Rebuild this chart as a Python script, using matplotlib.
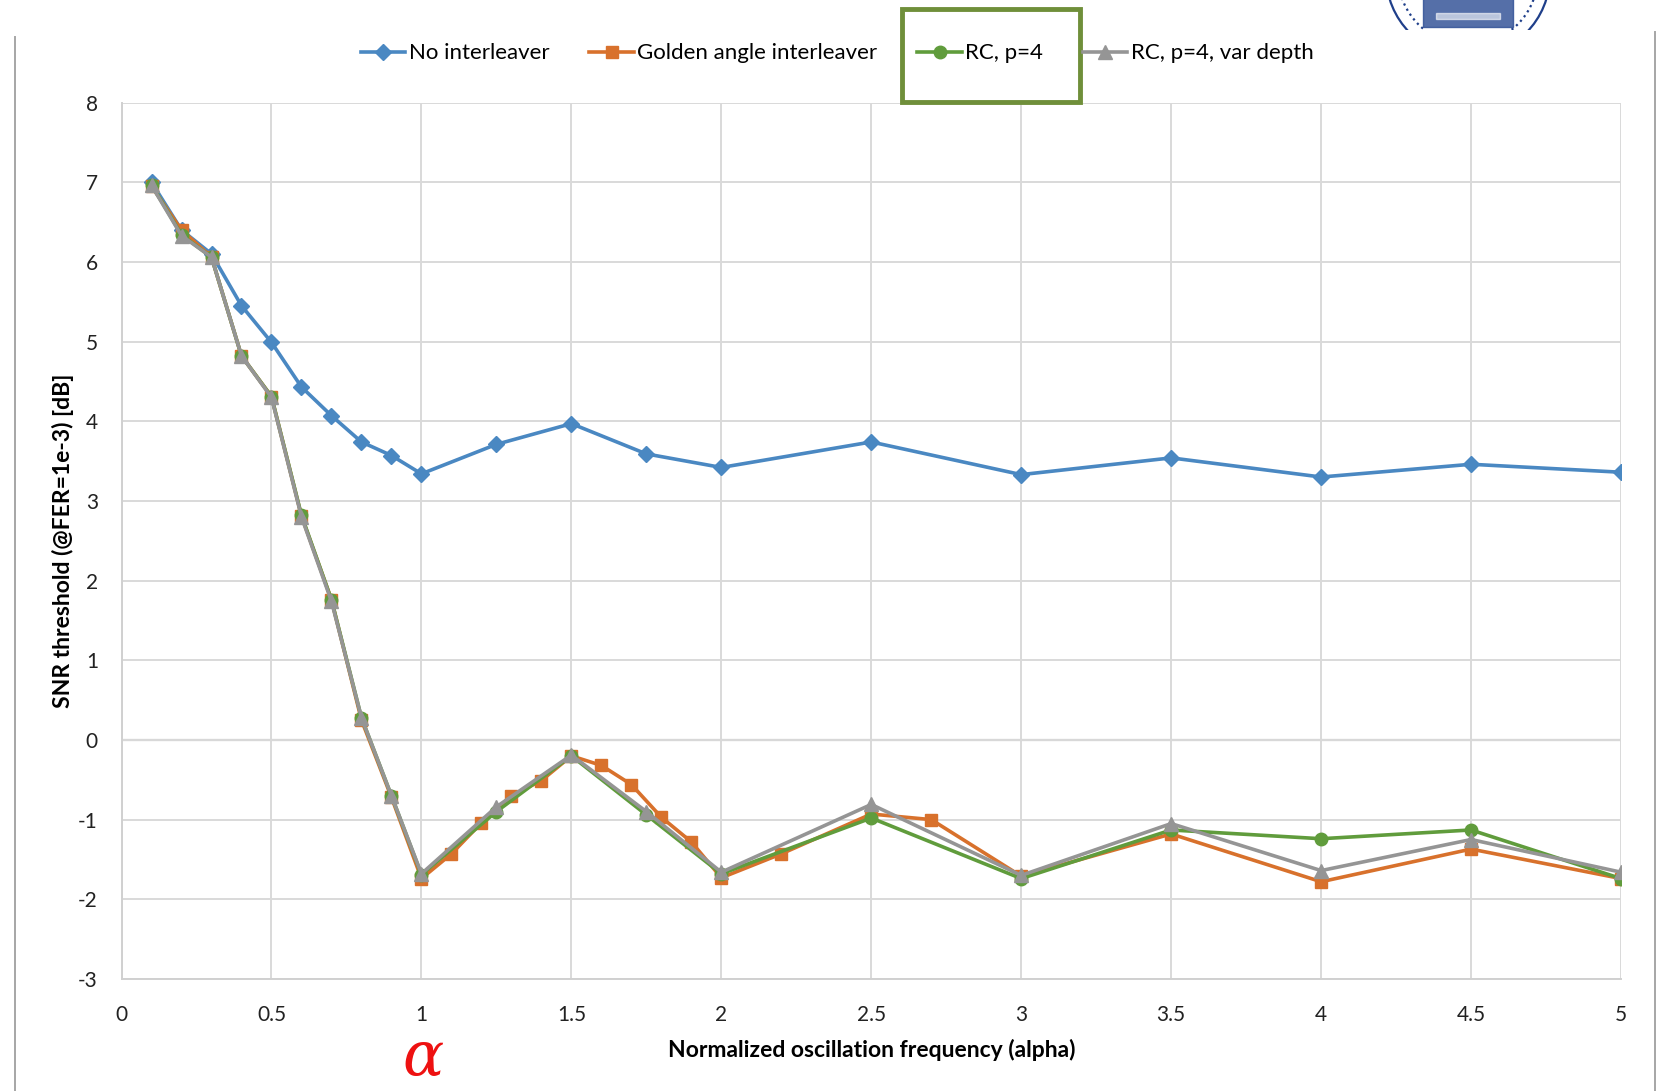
import matplotlib.pyplot as plt
from matplotlib.patches import Rectangle, Circle
from matplotlib.lines import Line2D

# Data
x_no = [0.1, 0.2, 0.3, 0.4, 0.5, 0.6, 0.7, 0.8, 0.9, 1.0,
        1.25, 1.5, 1.75, 2.0, 2.5, 3.0, 3.5, 4.0, 4.5, 5.0]
y_no = [7.0, 6.4, 6.1, 5.45, 4.99, 4.43, 4.07, 3.74, 3.57, 3.34,
        3.71, 3.97, 3.59, 3.42, 3.74, 3.33, 3.54, 3.30, 3.46, 3.36]

x_golden = [0.1, 0.2, 0.3, 0.4, 0.5, 0.6, 0.7, 0.8, 0.9, 1.0,
            1.1, 1.2, 1.3, 1.4, 1.5, 1.6, 1.7, 1.8, 1.9, 2.0,
            2.2, 2.5, 2.7, 3.0, 3.5, 4.0, 4.5, 5.0]
y_golden = [6.95, 6.4, 6.06, 4.82, 4.31, 2.81, 1.76, 0.25, -0.72, -1.74,
            -1.43, -1.04, -0.70, -0.51, -0.20, -0.32, -0.56, -0.97, -1.28, -1.73,
            -1.43, -0.93, -1.0, -1.71, -1.18, -1.78, -1.37, -1.74]

x_rc = [0.1, 0.2, 0.3, 0.4, 0.5, 0.6, 0.7, 0.8, 0.9, 1.0,
        1.25, 1.5, 1.75, 2.0, 2.5, 3.0, 3.5, 4.0, 4.5, 5.0]
y_rc = [6.97, 6.34, 6.06, 4.82, 4.31, 2.82, 1.76, 0.28, -0.70, -1.69,
        -0.90, -0.20, -0.94, -1.68, -0.98, -1.74, -1.13, -1.24, -1.13, -1.74]
y_rc_var = [6.96, 6.33, 6.06, 4.82, 4.30, 2.80, 1.74, 0.28, -0.70, -1.68,
            -0.84, -0.19, -0.90, -1.66, -0.81, -1.70, -1.05, -1.64, -1.25, -1.66]

x_ticks = [0, 0.5, 1, 1.5, 2, 2.5, 3, 3.5, 4, 4.5, 5]
x_tick_labels = ['0', '0.5', '1', '1.5', '2', '2.5', '3', '3.5', '4', '4.5', '5']
y_ticks = [-3, -2, -1, 0, 1, 2, 3, 4, 5, 6, 7, 8]

plt.rcParams['font.family'] = ['Lato', 'DejaVu Sans']
plt.rcParams['axes.unicode_minus'] = False

fig = plt.figure(figsize=(16.58, 10.91), dpi=100)
ax = fig.add_axes([0.0733, 0.1027, 0.9044, 0.8033])

c_blue = '#4a88c2'
c_orange = '#d8712c'
c_green = '#609c3c'
c_gray = '#959595'

lw = 2.6
ax.plot(x_no, y_no, color=c_blue, lw=lw, marker='D', ms=8, label='No interleaver', zorder=3)
ax.plot(x_golden, y_golden, color=c_orange, lw=lw, marker='s', ms=9, label='Golden angle interleaver', zorder=4)
ax.plot(x_rc, y_rc, color=c_green, lw=lw, marker='o', ms=9, label='RC, p=4', zorder=5)
ax.plot(x_rc, y_rc_var, color=c_gray, lw=lw, marker='^', ms=10, label='RC, p=4, var depth', zorder=6)

ax.set_xlim(0, 5)
ax.set_ylim(-3, 8)
ax.set_xticks(x_ticks)
ax.set_xticklabels(x_tick_labels)
ax.set_yticks(y_ticks)
ax.tick_params(length=0, labelsize=15, colors='#222222')
ax.tick_params(axis='x', pad=19)
ax.tick_params(axis='y', pad=17)
ax.grid(True, color='#d9d9d9', lw=1.4, zorder=0)
ax.axhline(0, color='#c4c4c4', lw=1.6, zorder=1)
for s in ['top', 'right']:
    ax.spines[s].set_visible(False)
ax.spines['left'].set_color('#d0d0d0')
ax.spines['bottom'].set_color('#d0d0d0')
ax.spines['left'].set_linewidth(1.4)
ax.spines['bottom'].set_linewidth(1.4)

ax.set_xlabel('Normalized oscillation frequency (alpha)', fontsize=16.5, fontweight='bold', labelpad=10)
ax.set_ylabel('SNR threshold (@FER=1e-3) [dB]', fontsize=16.5, fontweight='bold', labelpad=3)

fig.legend(loc='center', bbox_to_anchor=(0.505, 0.951), ncol=4, frameon=False,
           fontsize=16, handlelength=2.0, handletextpad=0.15, columnspacing=1.8)

# Slide decorations
fig.patches.append(Rectangle((902 / 1658, 1 - 102 / 1091), 178 / 1658, 93 / 1091,
                             transform=fig.transFigure, fill=False,
                             edgecolor='#6f8f3a', lw=3.5))
fig.lines.append(Line2D([15 / 1658, 15 / 1658], [0, 1 - 37 / 1091],
                        transform=fig.transFigure, color='#a6a6a6', lw=1.4))
fig.lines.append(Line2D([1655 / 1658, 1655 / 1658], [0, 1 - 32 / 1091],
                        transform=fig.transFigure, color='#a6a6a6', lw=1.4))

# cropped university seal at top right
logo = fig.add_axes([1383 / 1658, 1 - 30 / 1091, 170 / 1658, 30 / 1091])
logo.set_xlim(-85, 85)
logo.set_ylim(-15, 15)
logo.axis('off')
logo.add_patch(Circle((0, 40), 82, fill=False, edgecolor='#1f3f8a', lw=1.6))
logo.add_patch(Circle((0, 40), 70, fill=False, edgecolor='#1f3f8a', lw=1.6, ls=':'))
logo.add_patch(Rectangle((-45, -12), 90, 30, color='#2a4b93', alpha=0.8))
logo.add_patch(Rectangle((-32, -4), 64, 6, color='white', alpha=0.6))

fig.text(423 / 1658, 1 - 1058 / 1091, 'α', color='#ee1111', fontsize=44,
         ha='center', va='center', family='DejaVu Serif', style='italic')

fig.savefig('out.png', dpi=100)
